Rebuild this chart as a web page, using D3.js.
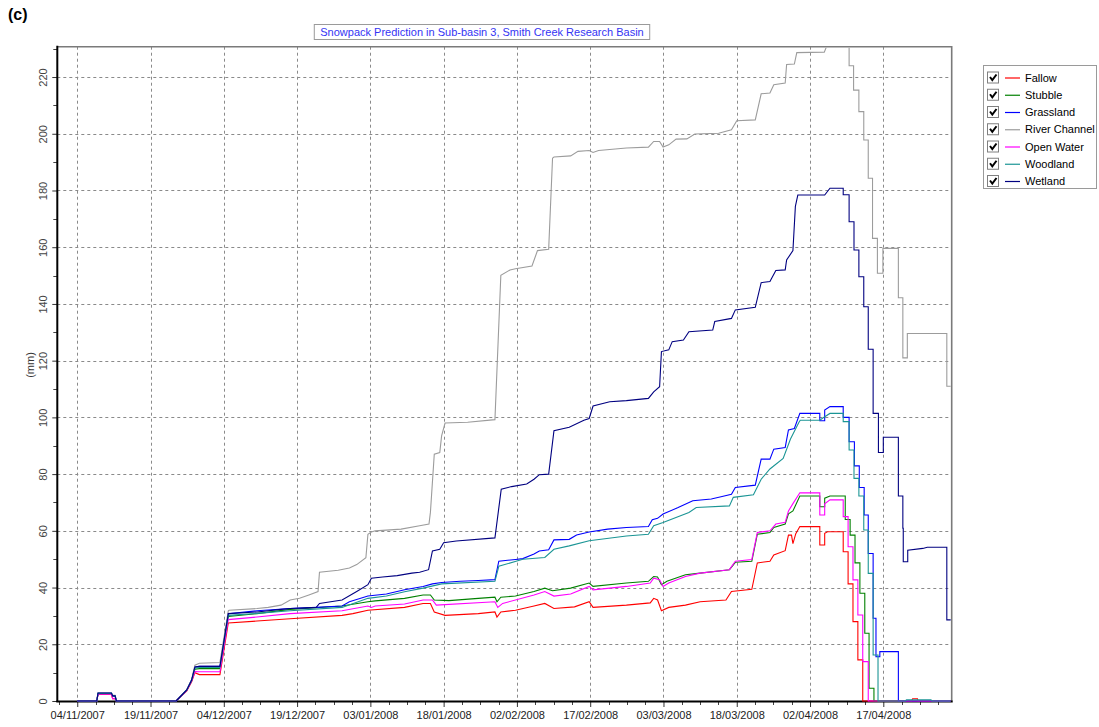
<!DOCTYPE html>
<html>
<head>
<meta charset="utf-8">
<script src="https://cdn.jsdelivr.net/npm/d3@7"></script>
<style>
  body { margin: 0; background: #ffffff; }
  svg { display: block; font-family: "Liberation Sans", Arial, sans-serif; }
</style>
</head>
<body>
<svg id="chart" width="1099" height="727"></svg>
<script>
// ---- Chart data -------------------------------------------------------
const chartTitle = "Snowpack Prediction in Sub-basin 3, Smith Creek Research Basin";
const panelLabel = "(c)";
const yAxisLabel = "(mm)";

const seriesNames = ["Fallow", "Stubble", "Grassland", "River Channel", "Open Water", "Woodland", "Wetland"];
const seriesColors = ["#ff0000", "#008000", "#0000ff", "#9c9c9c", "#ff00ff", "#1b9595", "#000080"];

const dateTicks = ["04/11/2007", "19/11/2007", "04/12/2007", "19/12/2007", "03/01/2008", "18/01/2008",
                   "02/02/2008", "17/02/2008", "03/03/2008", "18/03/2008", "02/04/2008", "17/04/2008"];
const valueTicks = [0, 20, 40, 60, 80, 100, 120, 140, 160, 180, 200, 220];
const axisStart = "2007-10-30 22";
const axisEnd = "2008-05-01 00";
const valueMax = 230.7;

// Snow water equivalent (mm) per land class, [time, value]
const fallow = [
  ["2007-11-04 00", 0], ["2007-11-08 00", 0], ["2007-11-08 06", 2.3], ["2007-11-11 00", 2.3], ["2007-11-11 06", 0.8],
  ["2007-11-11 18", 0.8], ["2007-11-12 00", 0], ["2007-11-24 06", 0], ["2007-11-26 10", 3.6], ["2007-11-27 10", 6.8],
  ["2007-11-28 02", 10.0], ["2007-11-29 00", 9.3], ["2007-12-03 05", 9.3], ["2007-12-04 22", 27.5],
  ["2007-12-10 19", 28.2], ["2007-12-17 14", 29.0], ["2007-12-28 05", 30.2], ["2007-12-30 10", 30.8],
  ["2008-01-02 12", 32.0], ["2008-01-10 00", 33.0], ["2008-01-13 19", 34.4], ["2008-01-15 07", 34.4],
  ["2008-01-16 02", 31.4], ["2008-01-18 07", 30.2], ["2008-01-25 02", 30.8], ["2008-01-28 12", 31.4],
  ["2008-01-28 22", 29.6], ["2008-01-29 17", 31.4], ["2008-02-01 17", 32.0], ["2008-02-05 12", 33.5],
  ["2008-02-07 17", 34.4], ["2008-02-09 14", 32.6], ["2008-02-13 19", 33.2], ["2008-02-16 19", 35.0],
  ["2008-02-17 14", 33.0], ["2008-02-24 10", 33.8], ["2008-02-29 07", 34.6], ["2008-03-01 00", 36.2],
  ["2008-03-01 19", 35.6], ["2008-03-02 14", 31.8], ["2008-03-04 02", 33.0], ["2008-03-07 12", 33.8],
  ["2008-03-10 12", 35.0], ["2008-03-15 19", 35.6], ["2008-03-16 22", 38.6], ["2008-03-21 02", 39.4],
  ["2008-03-22 05", 48.7], ["2008-03-24 19", 49.3], ["2008-03-25 14", 51.5], ["2008-03-27 22", 53.0],
  ["2008-03-28 14", 58.5], ["2008-03-29 05", 58.5], ["2008-03-29 12", 55.5], ["2008-03-30 02", 59.0],
  ["2008-03-30 22", 61.5], ["2008-04-04 00", 61.5], ["2008-04-04 00", 55.0], ["2008-04-05 00", 55.0],
  ["2008-04-05 00", 59.1], ["2008-04-05 14", 59.7], ["2008-04-08 19", 59.7], ["2008-04-08 19", 52.6],
  ["2008-04-09 19", 52.6], ["2008-04-09 19", 41.3], ["2008-04-10 19", 41.3], ["2008-04-10 19", 28.0],
  ["2008-04-11 19", 28.0], ["2008-04-11 19", 14.5], ["2008-04-12 19", 14.5], ["2008-04-12 19", 0],
  ["2008-04-22 19", 0], ["2008-04-23 00", 0.8], ["2008-04-24 00", 0.8], ["2008-04-24 02", 0], ["2008-05-01 00", 0]
];

const stubble = [
  ["2007-11-04 00", 0], ["2007-11-08 00", 0], ["2007-11-08 06", 2.6], ["2007-11-11 00", 2.6], ["2007-11-11 06", 1.8],
  ["2007-11-11 18", 1.8], ["2007-11-12 00", 0], ["2007-11-24 06", 0], ["2007-11-26 10", 3.8], ["2007-11-27 10", 7.2],
  ["2007-11-28 02", 11.2], ["2007-11-29 00", 11.4], ["2007-12-03 05", 11.4], ["2007-12-04 22", 29.8],
  ["2007-12-10 19", 30.8], ["2007-12-17 14", 32.3], ["2007-12-28 05", 33.5], ["2008-01-02 12", 35.0],
  ["2008-01-04 00", 35.3], ["2008-01-10 00", 36.2], ["2008-01-13 19", 37.4], ["2008-01-15 07", 37.4],
  ["2008-01-16 02", 35.6], ["2008-01-19 02", 35.4], ["2008-01-25 02", 36.2], ["2008-01-28 12", 36.6],
  ["2008-01-28 22", 35.0], ["2008-01-29 17", 36.6], ["2008-02-01 17", 37.0], ["2008-02-05 12", 38.6],
  ["2008-02-07 17", 39.8], ["2008-02-09 07", 38.9], ["2008-02-13 00", 39.8], ["2008-02-16 19", 41.6],
  ["2008-02-17 14", 40.4], ["2008-02-24 10", 41.6], ["2008-02-28 22", 42.2], ["2008-03-01 00", 43.9],
  ["2008-03-01 19", 43.7], ["2008-03-02 14", 41.0], ["2008-03-03 17", 42.2], ["2008-03-07 12", 44.5],
  ["2008-03-10 12", 45.1], ["2008-03-16 12", 46.3], ["2008-03-17 17", 48.9], ["2008-03-21 02", 49.3],
  ["2008-03-22 05", 58.8], ["2008-03-24 19", 59.4], ["2008-03-25 14", 61.2], ["2008-03-27 22", 62.4],
  ["2008-03-28 14", 66.0], ["2008-03-29 12", 67.0], ["2008-03-30 22", 72.3], ["2008-04-04 00", 72.3],
  ["2008-04-04 00", 68.5], ["2008-04-05 00", 68.5], ["2008-04-05 00", 71.5], ["2008-04-06 02", 72.3],
  ["2008-04-09 05", 72.3], ["2008-04-09 05", 64.0], ["2008-04-10 05", 64.0], ["2008-04-10 05", 58.5],
  ["2008-04-11 05", 58.5], ["2008-04-11 05", 48.7], ["2008-04-12 05", 48.7], ["2008-04-12 05", 38.0],
  ["2008-04-13 05", 38.0], ["2008-04-13 05", 23.9], ["2008-04-14 02", 23.9], ["2008-04-14 02", 4.5],
  ["2008-04-15 02", 4.5], ["2008-04-15 02", 0], ["2008-05-01 00", 0]
];

const grassland = [
  ["2007-11-04 00", 0], ["2007-11-08 00", 0], ["2007-11-08 06", 2.7], ["2007-11-11 00", 2.7], ["2007-11-11 06", 1.8],
  ["2007-11-11 18", 1.8], ["2007-11-12 00", 0], ["2007-11-24 06", 0], ["2007-11-26 10", 3.9], ["2007-11-27 10", 7.4],
  ["2007-11-28 02", 12.0], ["2007-11-29 00", 12.2], ["2007-12-03 05", 12.2], ["2007-12-04 22", 30.8],
  ["2007-12-10 19", 31.8], ["2007-12-17 14", 32.6], ["2007-12-22 22", 33.0], ["2007-12-28 05", 33.5],
  ["2007-12-29 17", 35.0], ["2008-01-02 12", 37.0], ["2008-01-06 07", 37.7], ["2008-01-10 00", 39.2],
  ["2008-01-13 19", 40.4], ["2008-01-15 17", 41.3], ["2008-01-17 14", 41.8], ["2008-01-21 10", 42.2],
  ["2008-01-25 02", 42.5], ["2008-01-28 12", 42.8], ["2008-01-29 07", 49.3], ["2008-02-01 17", 49.9],
  ["2008-02-03 05", 50.2], ["2008-02-05 12", 51.8], ["2008-02-06 14", 52.9], ["2008-02-08 12", 53.3],
  ["2008-02-09 14", 56.8], ["2008-02-12 17", 57.0], ["2008-02-14 05", 58.5], ["2008-02-16 19", 59.6],
  ["2008-02-20 14", 60.6], ["2008-02-24 10", 61.2], ["2008-02-28 22", 61.5], ["2008-02-29 17", 63.9],
  ["2008-03-01 19", 64.4], ["2008-03-02 22", 65.9], ["2008-03-06 00", 68.2], ["2008-03-09 00", 70.6],
  ["2008-03-12 19", 71.2], ["2008-03-15 00", 72.1], ["2008-03-16 22", 72.9], ["2008-03-17 17", 75.3],
  ["2008-03-21 19", 76.1], ["2008-03-23 00", 85.3], ["2008-03-24 19", 85.3], ["2008-03-25 14", 88.8],
  ["2008-03-27 22", 89.4], ["2008-03-28 14", 95.6], ["2008-03-29 19", 96.1], ["2008-03-30 22", 101.4],
  ["2008-04-04 00", 101.4], ["2008-04-04 00", 98.8], ["2008-04-05 00", 98.8], ["2008-04-05 00", 102.6],
  ["2008-04-06 02", 103.8], ["2008-04-08 19", 103.8], ["2008-04-08 19", 100.0], ["2008-04-10 00", 100.0],
  ["2008-04-10 00", 91.4], ["2008-04-11 02", 91.4], ["2008-04-11 02", 82.9], ["2008-04-12 02", 82.9],
  ["2008-04-12 02", 75.3], ["2008-04-13 02", 75.3], ["2008-04-13 02", 65.6], ["2008-04-13 22", 65.6],
  ["2008-04-13 22", 52.0], ["2008-04-14 22", 52.0], ["2008-04-14 22", 29.2], ["2008-04-15 12", 29.2],
  ["2008-04-15 12", 15.6], ["2008-04-16 07", 15.6], ["2008-04-16 07", 17.4], ["2008-04-20 02", 17.4],
  ["2008-04-20 02", 0], ["2008-05-01 00", 0]
];

const riverChannel = [
  ["2007-11-04 00", 0], ["2007-11-08 00", 0], ["2007-11-08 06", 2.8], ["2007-11-11 00", 2.8], ["2007-11-11 06", 2.0],
  ["2007-11-11 18", 2.0], ["2007-11-12 00", 0], ["2007-11-24 06", 0], ["2007-11-26 10", 4.0], ["2007-11-27 10", 7.6],
  ["2007-11-28 02", 12.6], ["2007-11-29 00", 13.3], ["2007-12-03 05", 13.6], ["2007-12-04 22", 31.8],
  ["2007-12-05 02", 32.0], ["2007-12-10 19", 32.6], ["2007-12-13 02", 33.0], ["2007-12-15 17", 33.8],
  ["2007-12-17 14", 35.6], ["2007-12-19 12", 36.2], ["2007-12-21 10", 37.4], ["2007-12-23 07", 38.6],
  ["2007-12-23 14", 45.4], ["2007-12-27 10", 46.1], ["2007-12-29 17", 46.9], ["2007-12-31 05", 48.1],
  ["2008-01-02 02", 50.5], ["2008-01-02 12", 58.8], ["2008-01-03 05", 59.6], ["2008-01-04 00", 60.0],
  ["2008-01-09 07", 60.6], ["2008-01-13 02", 61.8], ["2008-01-15 00", 62.4], ["2008-01-15 07", 66.5],
  ["2008-01-16 02", 87.0], ["2008-01-17 05", 87.6], ["2008-01-17 14", 93.5], ["2008-01-18 07", 98.0],
  ["2008-01-22 22", 98.3], ["2008-01-28 12", 99.2], ["2008-01-29 17", 150.1], ["2008-01-31 14", 152.0],
  ["2008-02-01 17", 152.4], ["2008-02-05 02", 153.4], ["2008-02-06 05", 158.8], ["2008-02-08 12", 159.3],
  ["2008-02-09 07", 191.4], ["2008-02-09 14", 191.8], ["2008-02-13 00", 192.2], ["2008-02-14 12", 193.8],
  ["2008-02-16 19", 194.1], ["2008-02-17 14", 193.4], ["2008-02-18 17", 194.1], ["2008-02-24 10", 195.0],
  ["2008-02-28 22", 195.3], ["2008-03-01 00", 197.3], ["2008-03-02 05", 197.3], ["2008-03-02 22", 195.3],
  ["2008-03-04 02", 196.1], ["2008-03-05 14", 198.1], ["2008-03-07 19", 198.2], ["2008-03-09 10", 199.9],
  ["2008-03-14 07", 200.2], ["2008-03-16 22", 201.4], ["2008-03-18 00", 204.6], ["2008-03-21 19", 204.9],
  ["2008-03-23 00", 214.1], ["2008-03-24 19", 214.4], ["2008-03-25 14", 217.3], ["2008-03-27 22", 217.9],
  ["2008-03-28 05", 224.4], ["2008-03-29 19", 224.6], ["2008-03-30 07", 228.6], ["2008-04-04 22", 228.8],
  ["2008-04-05 22", 233.0], ["2008-04-10 00", 233.0], ["2008-04-10 00", 224.0], ["2008-04-10 22", 224.0],
  ["2008-04-10 22", 215.4], ["2008-04-12 00", 215.4], ["2008-04-12 00", 207.8], ["2008-04-13 00", 207.8],
  ["2008-04-13 00", 197.8], ["2008-04-13 22", 197.8], ["2008-04-13 22", 184.3], ["2008-04-14 19", 184.3],
  ["2008-04-14 19", 163.1], ["2008-04-15 19", 163.1], ["2008-04-15 19", 150.8], ["2008-04-16 22", 150.8],
  ["2008-04-16 22", 159.6], ["2008-04-20 02", 159.6], ["2008-04-20 02", 142.2], ["2008-04-21 00", 142.2],
  ["2008-04-21 00", 121.0], ["2008-04-21 22", 121.0], ["2008-04-21 22", 129.6], ["2008-04-30 00", 129.6],
  ["2008-04-30 00", 111.0], ["2008-05-01 00", 111.0]
];

const openWater = [
  ["2007-11-04 00", 0], ["2007-11-08 00", 0], ["2007-11-08 06", 2.4], ["2007-11-11 00", 2.4], ["2007-11-11 06", 0.8],
  ["2007-11-11 18", 0.8], ["2007-11-12 00", 0], ["2007-11-24 06", 0], ["2007-11-26 10", 3.7], ["2007-11-27 10", 7.0],
  ["2007-11-28 02", 10.4], ["2007-11-29 00", 10.3], ["2007-12-03 05", 10.3], ["2007-12-04 22", 28.7],
  ["2007-12-10 19", 29.6], ["2007-12-17 14", 30.8], ["2007-12-28 05", 31.8], ["2008-01-02 12", 33.5],
  ["2008-01-03 05", 33.0], ["2008-01-04 00", 33.5], ["2008-01-10 00", 34.2], ["2008-01-13 19", 35.6],
  ["2008-01-15 17", 35.6], ["2008-01-16 12", 33.8], ["2008-01-28 12", 35.0], ["2008-01-29 02", 33.0],
  ["2008-01-30 02", 34.4], ["2008-02-05 12", 37.4], ["2008-02-07 17", 38.6], ["2008-02-09 14", 37.0],
  ["2008-02-13 00", 37.7], ["2008-02-16 19", 40.4], ["2008-02-17 14", 39.2], ["2008-02-24 10", 40.4],
  ["2008-02-29 07", 41.6], ["2008-03-01 00", 43.3], ["2008-03-02 05", 42.8], ["2008-03-02 22", 40.4],
  ["2008-03-04 02", 41.6], ["2008-03-07 12", 43.9], ["2008-03-10 12", 45.1], ["2008-03-16 12", 46.3],
  ["2008-03-17 17", 49.3], ["2008-03-21 02", 49.9], ["2008-03-22 05", 59.4], ["2008-03-24 19", 60.0],
  ["2008-03-26 00", 62.4], ["2008-03-27 22", 63.0], ["2008-03-28 14", 67.0], ["2008-03-29 12", 69.6],
  ["2008-03-30 22", 73.4], ["2008-04-04 00", 73.4], ["2008-04-04 00", 65.6], ["2008-04-05 00", 65.6],
  ["2008-04-05 00", 69.5], ["2008-04-06 02", 70.9], ["2008-04-08 19", 70.9], ["2008-04-08 19", 65.0],
  ["2008-04-09 19", 65.0], ["2008-04-09 19", 54.4], ["2008-04-10 19", 54.4], ["2008-04-10 19", 42.7],
  ["2008-04-11 19", 42.7], ["2008-04-11 19", 30.3], ["2008-04-12 19", 30.3], ["2008-04-12 19", 13.9],
  ["2008-04-13 22", 13.9], ["2008-04-13 22", 0], ["2008-05-01 00", 0]
];

const woodland = [
  ["2007-11-04 00", 0], ["2007-11-08 00", 0], ["2007-11-08 06", 2.7], ["2007-11-11 00", 2.7], ["2007-11-11 06", 1.8],
  ["2007-11-11 18", 1.8], ["2007-11-12 00", 0], ["2007-11-24 06", 0], ["2007-11-26 10", 3.9], ["2007-11-27 10", 7.3],
  ["2007-11-28 02", 11.6], ["2007-11-29 00", 11.8], ["2007-12-03 05", 11.8], ["2007-12-04 22", 30.2],
  ["2007-12-10 19", 30.9], ["2007-12-17 14", 31.8], ["2007-12-28 05", 33.0], ["2008-01-02 12", 36.2],
  ["2008-01-06 07", 37.0], ["2008-01-10 00", 38.5], ["2008-01-13 19", 39.8], ["2008-01-17 14", 41.3],
  ["2008-01-28 12", 42.2], ["2008-01-29 07", 47.5], ["2008-02-03 05", 50.0], ["2008-02-07 17", 50.6],
  ["2008-02-09 14", 53.5], ["2008-02-12 17", 54.7], ["2008-02-16 19", 56.5], ["2008-02-24 10", 58.2],
  ["2008-02-28 22", 58.8], ["2008-03-01 00", 61.8], ["2008-03-02 22", 62.9], ["2008-03-08 05", 66.5],
  ["2008-03-09 17", 68.2], ["2008-03-16 12", 68.8], ["2008-03-17 07", 71.8], ["2008-03-21 10", 72.7],
  ["2008-03-23 00", 78.2], ["2008-03-24 19", 81.8], ["2008-03-27 12", 85.5], ["2008-03-29 00", 92.4],
  ["2008-03-30 17", 98.2], ["2008-03-31 00", 99.0], ["2008-04-04 00", 99.0], ["2008-04-05 00", 100.2],
  ["2008-04-06 02", 101.4], ["2008-04-08 19", 101.4], ["2008-04-08 19", 98.5], ["2008-04-10 00", 98.5],
  ["2008-04-10 00", 88.5], ["2008-04-11 00", 88.5], ["2008-04-11 00", 78.5], ["2008-04-12 00", 78.5],
  ["2008-04-12 00", 72.3], ["2008-04-13 00", 72.3], ["2008-04-13 00", 60.3], ["2008-04-13 22", 60.3],
  ["2008-04-13 22", 45.0], ["2008-04-14 22", 45.0], ["2008-04-14 22", 16.2], ["2008-04-15 22", 16.2],
  ["2008-04-15 22", 0], ["2008-04-21 12", 0], ["2008-04-21 18", 0.4], ["2008-04-26 18", 0.4],
  ["2008-04-27 00", 0], ["2008-05-01 00", 0]
];

const wetland = [
  ["2007-11-04 00", 0], ["2007-11-08 00", 0], ["2007-11-08 06", 2.8], ["2007-11-11 00", 2.8], ["2007-11-11 06", 1.8],
  ["2007-11-11 18", 1.8], ["2007-11-12 00", 0], ["2007-11-24 06", 0], ["2007-11-26 10", 3.9], ["2007-11-27 10", 7.4],
  ["2007-11-28 02", 12.0], ["2007-11-29 00", 12.2], ["2007-12-03 05", 12.2], ["2007-12-04 22", 30.8],
  ["2007-12-10 19", 31.4], ["2007-12-15 17", 32.3], ["2007-12-17 14", 32.6], ["2007-12-22 22", 33.0],
  ["2007-12-23 14", 34.4], ["2007-12-28 05", 35.6], ["2007-12-31 05", 38.6], ["2008-01-02 12", 41.0],
  ["2008-01-03 05", 43.3], ["2008-01-05 12", 43.7], ["2008-01-08 12", 44.2], ["2008-01-11 12", 45.1],
  ["2008-01-13 02", 45.4], ["2008-01-14 22", 46.3], ["2008-01-15 17", 52.9], ["2008-01-17 05", 53.5],
  ["2008-01-18 00", 55.8], ["2008-01-20 14", 56.4], ["2008-01-28 12", 57.5], ["2008-01-29 19", 74.7],
  ["2008-01-31 22", 75.6], ["2008-02-04 00", 76.5], ["2008-02-05 12", 78.2], ["2008-02-06 14", 79.8],
  ["2008-02-08 12", 80.0], ["2008-02-09 14", 95.3], ["2008-02-12 17", 96.5], ["2008-02-15 17", 99.0],
  ["2008-02-16 19", 99.6], ["2008-02-17 14", 104.0], ["2008-02-21 00", 105.5], ["2008-02-24 10", 105.9],
  ["2008-02-28 22", 106.7], ["2008-03-01 00", 109.0], ["2008-03-02 05", 110.8], ["2008-03-02 14", 123.2],
  ["2008-03-04 02", 123.8], ["2008-03-04 19", 126.7], ["2008-03-07 02", 127.3], ["2008-03-08 05", 130.2],
  ["2008-03-13 02", 130.8], ["2008-03-13 12", 133.8], ["2008-03-16 22", 134.9], ["2008-03-17 17", 137.9],
  ["2008-03-21 19", 138.8], ["2008-03-23 00", 147.5], ["2008-03-24 19", 147.9], ["2008-03-26 00", 151.8],
  ["2008-03-27 22", 152.0], ["2008-03-28 05", 155.5], ["2008-03-29 12", 158.8], ["2008-03-30 00", 174.4],
  ["2008-03-30 12", 178.4], ["2008-04-05 00", 178.4], ["2008-04-06 02", 180.8], ["2008-04-08 19", 180.8],
  ["2008-04-08 19", 178.5], ["2008-04-10 00", 178.5], ["2008-04-10 00", 169.0], ["2008-04-11 00", 169.0],
  ["2008-04-11 00", 159.0], ["2008-04-12 00", 159.0], ["2008-04-12 00", 149.6], ["2008-04-13 00", 149.6],
  ["2008-04-13 00", 139.0], ["2008-04-13 22", 139.0], ["2008-04-13 22", 124.0], ["2008-04-14 22", 124.0],
  ["2008-04-14 22", 101.4], ["2008-04-16 00", 101.4], ["2008-04-16 00", 87.6], ["2008-04-17 00", 87.6],
  ["2008-04-17 00", 93.0], ["2008-04-20 02", 93.0], ["2008-04-20 02", 72.3], ["2008-04-21 00", 72.3],
  ["2008-04-21 00", 60.9], ["2008-04-21 02", 60.9], ["2008-04-21 02", 49.1], ["2008-04-22 00", 49.1],
  ["2008-04-22 00", 53.2], ["2008-04-25 02", 53.8], ["2008-04-26 00", 54.2], ["2008-04-30 00", 54.2],
  ["2008-04-30 00", 28.6], ["2008-05-01 00", 28.6]
];

const seriesData = [fallow, stubble, grassland, riverChannel, openWater, woodland, wetland];

// ---- Layout ------------------------------------------------------------
const plot = { left: 57.3, right: 951.7, top: 46.7, bottom: 701 };
const parseTime = d3.utcParse("%Y-%m-%d %H");
const parseTick = d3.utcParse("%d/%m/%Y");

const svg = d3.select("#chart");

const x = d3.scaleUtc()
  .domain([parseTime(axisStart), parseTime(axisEnd)])
  .range([plot.left, plot.right]);
const y = d3.scaleLinear()
  .domain([0, valueMax])
  .range([plot.bottom, plot.top]);

svg.append("rect").attr("width", 1099).attr("height", 727).attr("fill", "#ffffff");

// Panel label
svg.append("text")
  .attr("x", 8).attr("y", 20)
  .attr("font-size", 16).attr("font-weight", "bold")
  .attr("fill", "#000")
  .text(panelLabel);

// Grid
const majorDates = dateTicks.map(parseTick);
const grid = svg.append("g").attr("stroke", "#8a8a8a").attr("stroke-width", 1)
  .attr("stroke-dasharray", "3,3").attr("fill", "none");
majorDates.forEach(d => {
  const px = Math.round(x(d)) + 0.5;
  grid.append("line").attr("x1", px).attr("x2", px).attr("y1", plot.top).attr("y2", plot.bottom);
});
valueTicks.filter(v => v > 0).forEach(v => {
  const py = Math.round(y(v)) + 0.5;
  grid.append("line").attr("x1", plot.left).attr("x2", plot.right).attr("y1", py).attr("y2", py);
});

// Frame (top / right)
svg.append("path")
  .attr("d", `M${plot.left},${plot.top}H${plot.right}V${plot.bottom}`)
  .attr("fill", "none").attr("stroke", "#7a7a7a").attr("stroke-width", 1.6);

// Bottom axis with major and minor ticks
const xAxis = d3.axisBottom(x).tickValues(majorDates).tickSize(6).tickFormat((d, i) => dateTicks[i]);
const gx = svg.append("g").attr("transform", `translate(0,${plot.bottom})`).call(xAxis);
gx.select(".domain").remove();
gx.selectAll(".tick line").attr("stroke", "#333");
gx.selectAll(".tick text").attr("font-size", 11).attr("font-family", "Liberation Sans, Arial, sans-serif")
  .attr("fill", "#222").attr("dy", null).attr("y", 18);

const step = majorDates[1] - majorDates[0];
const minorDates = [];
for (let t = +majorDates[0] - step; t <= +x.domain()[1]; t += step / 4) {
  const inMajor = majorDates.some(m => Math.abs(+m - t) < 1000);
  if (!inMajor && t >= +x.domain()[0]) minorDates.push(new Date(t));
}
const minorX = svg.append("g").attr("stroke", "#444").attr("stroke-width", 1);
minorDates.forEach(d => {
  const px = Math.round(x(d)) + 0.5;
  minorX.append("line").attr("x1", px).attr("x2", px).attr("y1", plot.bottom).attr("y2", plot.bottom + 4);
});

// Left axis with rotated labels
const yAxis = d3.axisLeft(y).tickValues(valueTicks).tickSize(5).tickFormat(d3.format("d"));
const gy = svg.append("g").attr("transform", `translate(${plot.left},0)`).call(yAxis);
gy.select(".domain").remove();
gy.selectAll(".tick line").attr("stroke", "#333");
gy.selectAll(".tick text")
  .attr("font-size", 11).attr("font-family", "Liberation Sans, Arial, sans-serif")
  .attr("fill", "#444").attr("x", null).attr("dy", null)
  .attr("text-anchor", "middle")
  .attr("transform", "translate(-10,0) rotate(-90)");

const minorY = svg.append("g").attr("stroke", "#444").attr("stroke-width", 1);
d3.range(10, valueMax, 20).forEach(v => {
  const py = Math.round(y(v)) + 0.5;
  minorY.append("line").attr("x1", plot.left - 4).attr("x2", plot.left).attr("y1", py).attr("y2", py);
});

svg.append("text")
  .attr("transform", `translate(34,365) rotate(-90)`)
  .attr("text-anchor", "middle")
  .attr("font-size", 11).attr("fill", "#333")
  .text(yAxisLabel);

// Axis lines
svg.append("line").attr("x1", plot.left).attr("x2", plot.left).attr("y1", plot.top - 1).attr("y2", plot.bottom + 1)
  .attr("stroke", "#000").attr("stroke-width", 2);
svg.append("line").attr("x1", plot.left - 1).attr("x2", plot.right + 1).attr("y1", plot.bottom + 0.5).attr("y2", plot.bottom + 0.5)
  .attr("stroke", "#000").attr("stroke-width", 2);

// Series lines
svg.append("clipPath").attr("id", "plotClip")
  .append("rect")
  .attr("x", plot.left + 1).attr("y", plot.top + 1)
  .attr("width", plot.right - plot.left - 2).attr("height", plot.bottom - plot.top);

const line = d3.line()
  .x(d => x(parseTime(d[0])))
  .y(d => y(d[1]));

const lines = svg.append("g").attr("clip-path", "url(#plotClip)");
seriesData.forEach((data, i) => {
  lines.append("path")
    .datum(data)
    .attr("d", line)
    .attr("fill", "none")
    .attr("stroke", seriesColors[i])
    .attr("stroke-width", 1.1)
    .attr("stroke-linejoin", "miter");
});

// Title box
const titleG = svg.append("g");
const titleText = titleG.append("text")
  .attr("x", 482).attr("y", 35.5)
  .attr("text-anchor", "middle")
  .attr("font-size", 11)
  .attr("fill", "#3434f4")
  .text(chartTitle);
const tw = titleText.node().getComputedTextLength();
titleG.insert("rect", "text")
  .attr("x", 482 - tw / 2 - 6).attr("y", 24.5)
  .attr("width", tw + 12).attr("height", 15)
  .attr("fill", "#fff").attr("stroke", "#9a9a9a").attr("stroke-width", 1);

// Legend
const legend = svg.append("g");
legend.append("rect")
  .attr("x", 983.5).attr("y", 65.5).attr("width", 113).attr("height", 123)
  .attr("fill", "#fff").attr("stroke", "#9a9a9a").attr("stroke-width", 1);
seriesNames.forEach((name, i) => {
  const cy = 77.5 + i * 17.25;
  const row = legend.append("g");
  row.append("rect")
    .attr("x", 987.5).attr("y", cy - 5.5).attr("width", 11).attr("height", 11)
    .attr("fill", "#fff").attr("stroke", "#808080").attr("stroke-width", 1);
  row.append("path")
    .attr("d", `M${990},${cy - 0.5}L${992.3},${cy + 2.5}L${996.5},${cy - 3}`)
    .attr("fill", "none").attr("stroke", "#000").attr("stroke-width", 2);
  row.append("line")
    .attr("x1", 1005).attr("x2", 1020).attr("y1", cy + 0.5).attr("y2", cy + 0.5)
    .attr("stroke", seriesColors[i]).attr("stroke-width", 1.2);
  row.append("text")
    .attr("x", 1025).attr("y", cy + 4)
    .attr("font-size", 11).attr("fill", "#000")
    .text(name);
});
</script>
</body>
</html>
